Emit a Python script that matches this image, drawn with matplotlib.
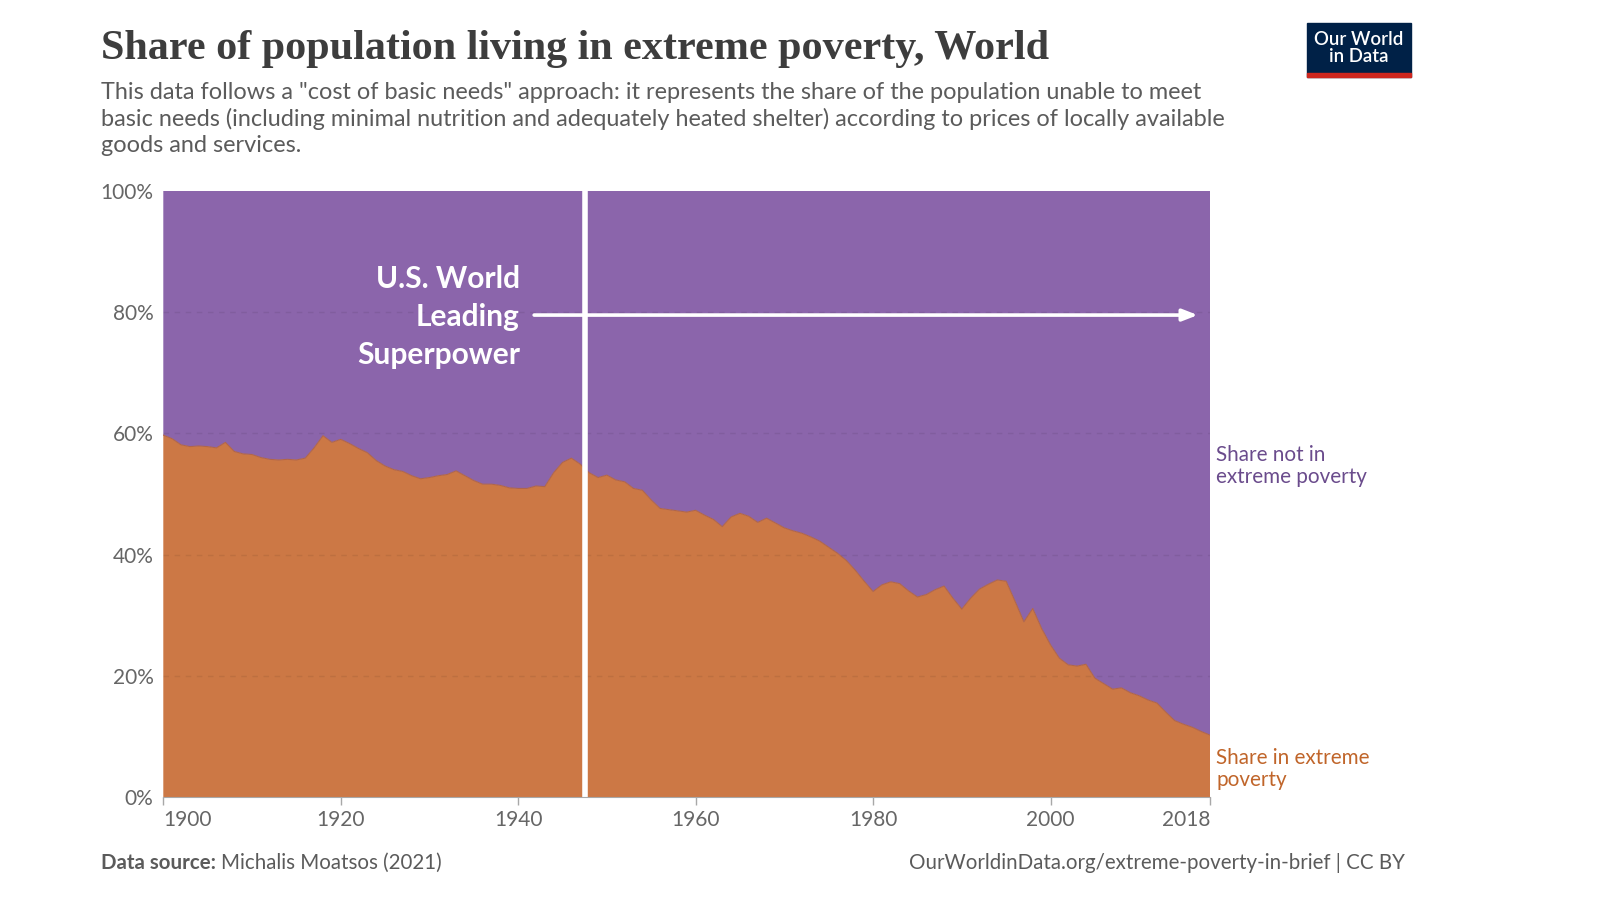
import matplotlib
matplotlib.use("Agg")
import matplotlib.pyplot as plt
from matplotlib.patches import Rectangle

plt.rcParams['font.family'] = ['Lato', 'DejaVu Sans']

years = list(range(1900, 2019))
share_in_poverty = [
    59.7, 59.1, 58.1, 57.8, 57.9, 57.8, 57.6, 58.5, 57.0, 56.6,   # 1900-1909
    56.5, 56.0, 55.7, 55.6, 55.7, 55.6, 55.9, 57.6, 59.6, 58.5,   # 1910-1919
    59.0, 58.3, 57.5, 56.8, 55.5, 54.6, 54.0, 53.7, 53.0, 52.5,   # 1920-1929
    52.7, 53.0, 53.2, 53.8, 53.0, 52.2, 51.6, 51.6, 51.4, 51.0,   # 1930-1939
    50.9, 50.9, 51.3, 51.2, 53.5, 55.2, 55.9, 54.9, 53.5, 52.7,   # 1940-1949
    53.1, 52.3, 52.0, 50.9, 50.6, 49.0, 47.6, 47.4, 47.2, 47.0,   # 1950-1959
    47.3, 46.5, 45.8, 44.6, 46.2, 46.8, 46.3, 45.3, 46.0, 45.2,   # 1960-1969
    44.4, 43.9, 43.5, 42.9, 42.2, 41.2, 40.2, 39.0, 37.4, 35.6,   # 1970-1979
    33.9, 35.0, 35.5, 35.2, 34.0, 33.0, 33.4, 34.2, 34.8, 32.8,   # 1980-1989
    31.0, 32.8, 34.3, 35.1, 35.8, 35.6, 32.3, 28.9, 31.1, 27.8,   # 1990-1999
    25.1, 22.9, 21.8, 21.6, 21.9, 19.6, 18.7, 17.8, 18.0, 17.2,   # 2000-2009
    16.7, 16.0, 15.5, 14.0, 12.6, 12.0, 11.5, 10.8, 10.2,         # 2010-2018
]
share_not_in_poverty = [100 - v for v in share_in_poverty]

x_ticks = [1900, 1920, 1940, 1960, 1980, 2000, 2018]
y_ticks = [0, 20, 40, 60, 80, 100]
y_tick_labels = ["0%", "20%", "40%", "60%", "80%", "100%"]

marker_year = 1947.5
annotation_text = "U.S. World\nLeading\nSuperpower"
title = "Share of population living in extreme poverty, World"
subtitle = ('This data follows a "cost of basic needs" approach: it represents the share of the population unable to meet\n'
            'basic needs (including minimal nutrition and adequately heated shelter) according to prices of locally available\n'
            'goods and services.')

ORANGE = "#cc7845"
PURPLE = "#8b65ab"
ORANGE_TXT = "#c0652a"
PURPLE_TXT = "#6a4b8c"
GRAY = "#666666"
TXT = "#5b5b5b"

W, H = 1600, 899
fig = plt.figure(figsize=(W / 100, H / 100), dpi=100)
ax = fig.add_axes([163.3 / W, 1 - 797 / H, (1210.2 - 163.3) / W, (797 - 190.8) / H])

ax.stackplot(years, share_in_poverty, share_not_in_poverty,
             colors=[ORANGE, PURPLE], linewidth=0)
ax.plot(years, share_in_poverty, color="#b0654a", lw=0.8)

ax.set_xlim(1900, 2018)
ax.set_ylim(0, 100)

for yv in y_ticks[1:-1]:
    ax.axhline(yv, color="#000000", alpha=0.07, lw=1, ls=(0, (4, 4)), zorder=3)

ax.axvline(marker_year, color="white", lw=4, zorder=4)

ax.annotate("", xy=(2016.6, 79.5), xytext=(1941.8, 79.5),
            arrowprops=dict(arrowstyle="-|>,head_length=0.9,head_width=0.35",
                            color="white", lw=2.6, shrinkA=0, shrinkB=0),
            zorder=5)
ax.text(1940.2, 79.2, annotation_text, ha="right", va="center", color="white",
        fontsize=21.5, fontweight="bold", linespacing=1.42, zorder=5)

for s in ["top", "right", "left"]:
    ax.spines[s].set_visible(False)
ax.spines["bottom"].set_color("#a8a8a8")
ax.spines["bottom"].set_zorder(6)

ax.set_yticks(y_ticks)
ax.set_yticklabels(y_tick_labels)
ax.tick_params(axis="y", length=0, pad=7, labelsize=15, labelcolor=GRAY)
ax.set_xticks(x_ticks)
ax.set_xticklabels([str(t) for t in x_ticks])
ax.tick_params(axis="x", length=6, width=1, color="#a8a8a8", pad=3,
               labelsize=15, labelcolor=GRAY)
xl = ax.get_xticklabels()
xl[0].set_ha("left")
xl[-1].set_ha("right")

# right-side labels
fig.text(1216 / W, 1 - 466 / H, "Share not in\nextreme poverty", ha="left", va="center",
         fontsize=14.9, color=PURPLE_TXT, linespacing=1.15)
fig.text(1216 / W, 1 - 769 / H, "Share in extreme\npoverty", ha="left", va="center",
         fontsize=14.9, color=ORANGE_TXT, linespacing=1.15)

# title & subtitle
fig.text(101 / W, 1 - 49 / H, title, ha="left", va="center",
         fontsize=30.3, fontweight="bold", color="#3d3d3d",
         family=["Liberation Serif", "DejaVu Serif"])
fig.text(101 / W, 1 - 119 / H, subtitle, ha="left", va="center",
         fontsize=16.9, color=TXT, linespacing=1.26)

# footer
renderer = fig.canvas.get_renderer()
t1 = fig.text(101 / W, 1 - 863 / H, "Data source:", ha="left", va="center",
              fontsize=14.8, color=TXT, fontweight="bold")
bb = t1.get_window_extent(renderer=renderer)
fig.text((bb.x1 + 5) / W, 1 - 863 / H, "Michalis Moatsos (2021)", ha="left", va="center",
         fontsize=14.8, color=TXT)
fig.text(1405 / W, 1 - 863 / H, "OurWorldinData.org/extreme-poverty-in-brief | CC BY",
         ha="right", va="center", fontsize=14.8, color=TXT)

# logo
lx0, lx1, ly0, ly1 = 1307, 1411, 23.5, 76.5
fig.patches.append(Rectangle((lx0 / W, 1 - ly1 / H), (lx1 - lx0) / W, (ly1 - ly0) / H,
                             transform=fig.transFigure, color="#002147", zorder=1))
fig.patches.append(Rectangle((lx0 / W, 1 - ly1 / H), (lx1 - lx0) / W, 3.5 / H,
                             transform=fig.transFigure, color="#ce261e", zorder=2))
fig.text((lx0 + lx1) / 2 / W, 1 - 48 / H, "Our World\nin Data", ha="center", va="center",
         fontsize=13.4, color="white", fontweight="semibold", linespacing=0.95, zorder=3)

fig.savefig("out.png", dpi=100, facecolor="white")
